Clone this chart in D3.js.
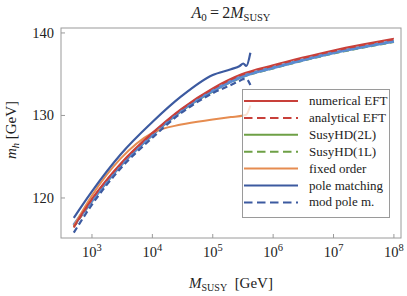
<!DOCTYPE html>
<html>
  <head>
    <meta charset="utf-8" />
    <title>m_h vs M_SUSY</title>
    <script src="https://cdn.jsdelivr.net/npm/d3@7"></script>
    <style type="text/css">
      body { margin: 0; background: #fff; }
      text { font-family: "Liberation Serif", "DejaVu Serif", serif; fill: #222; }
    </style>
  </head>
  <body>
    <svg id="chart" width="407" height="296"></svg>
    <script type="text/javascript">
      // M_SUSY grids [GeV]
      var mEFT = [500, 1e3, 3e3, 1e4, 3e4, 1e5, 3e5, 1e6, 3e6, 1e7, 3e7, 1e8];
      var mPole = [500, 1e3, 3e3, 1e4, 3e4, 1e5, 2e5, 2.8e5, 3.2e5, 3.6e5, 4.2e5];
      var mFixed = [500, 1e3, 3e3, 1e4, 3e4, 1e5, 2e5, 3.2e5, 3.6e5, 4.2e5];

      // m_h [GeV]
      var numericalEFT = [116.5, 119.9, 124.2, 127.9, 130.8, 133.3, 135.0, 136.1, 137.0, 137.9, 138.6, 139.3];
      var analyticalEFT = [116.4, 119.8, 124.1, 127.8, 130.7, 133.2, 134.9, 136.0, 136.9, 137.8, 138.5, 139.2];
      var susyHD2L = [116.6, 119.7, 124.0, 127.7, 130.6, 133.0, 134.7, 135.8, 136.7, 137.6, 138.3, 139.0];
      var susyHD1L = [116.5, 119.6, 123.9, 127.6, 130.5, 132.9, 134.6, 135.7, 136.6, 137.5, 138.2, 138.9];
      var eftBand = [116.7, 119.7, 124.0, 127.7, 130.6, 133.0, 134.7, 135.8, 136.7, 137.6, 138.3, 139.0]; // light blue, not in legend
      var fixedOrder = [116.6, 120.3, 124.8, 127.9, 128.9, 129.5, 129.8, 130.0, 130.1, 131.2];
      var poleMatching = [117.6, 120.8, 125.3, 129.2, 132.3, 134.9, 135.6, 136.0, 136.3, 136.0, 137.6];
      var modPole = [115.8, 119.2, 123.6, 127.3, 130.3, 132.7, 133.7, 134.2, 134.4, 134.4, 133.7];

      var yTicks = [120, 130, 140];
      var xTickExp = [3, 4, 5, 6, 7, 8];

      var legendNames = ['numerical EFT', 'analytical EFT', 'SusyHD(2L)', 'SusyHD(1L)', 'fixed order', 'pole matching', 'mod pole m.'];
      var legendColors = ['#c8403a', '#c8403a', '#6ea046', '#6ea046', '#e68c50', '#3c5aa0', '#3c5aa0'];
      var legendDashed = [false, true, false, true, false, false, true];

      var W = 407, H = 296;
      var m = { top: 28, right: 6, bottom: 58, left: 61 };
      var svg = d3.select('#chart');

      var x = d3.scaleLog().domain([307, 1.31e8]).range([m.left, W - m.right]);
      var y = d3.scaleLinear().domain([115.15, 140.6]).range([H - m.bottom, m.top]);

      var plot = svg.append('g');
      plot.append('clipPath').attr('id', 'clip').append('rect')
        .attr('x', m.left).attr('y', m.top)
        .attr('width', W - m.left - m.right).attr('height', H - m.top - m.bottom);

      var line = d3.line().curve(d3.curveMonotoneX)
        .x((d) => x(d[0])).y((d) => y(d[1]));

      function draw(xs, ys, color, width, dash) {
        plot.append('path')
          .datum(xs.map((v, i) => [v, ys[i]]))
          .attr('clip-path', 'url(#clip)')
          .attr('fill', 'none')
          .attr('stroke', color)
          .attr('stroke-width', width)
          .attr('stroke-dasharray', dash ? '6,3.5' : null)
          .attr('d', line);
      }

      draw(mEFT, susyHD1L, '#6ea046', 2, true);
      draw(mEFT, susyHD2L, '#6ea046', 2, false);
      draw(mEFT, eftBand, '#5a8cd2', 3.2, false);
      draw(mFixed, fixedOrder, '#e68c50', 2, false);
      draw(mPole, modPole, '#3c5aa0', 2.2, true);
      draw(mPole, poleMatching, '#3c5aa0', 2.2, false);
      draw(mEFT, analyticalEFT, '#c8403a', 1.6, true);
      draw(mEFT, numericalEFT, '#c8403a', 1.8, false);

      // frame
      svg.append('rect')
        .attr('x', m.left).attr('y', m.top)
        .attr('width', W - m.left - m.right).attr('height', H - m.top - m.bottom)
        .attr('fill', 'none').attr('stroke', '#9a9a9a').attr('stroke-width', 1);

      // x ticks (inward) + labels 10^n
      var gx = svg.append('g');
      xTickExp.forEach(function (e) {
        var px = x(Math.pow(10, e));
        gx.append('line').attr('x1', px).attr('x2', px)
          .attr('y1', H - m.bottom).attr('y2', H - m.bottom - 4)
          .attr('stroke', '#9a9a9a');
        var t = gx.append('text').attr('x', px).attr('y', 257)
          .attr('text-anchor', 'middle').attr('font-size', 14.5);
        t.append('tspan').text('10');
        t.append('tspan').attr('dy', -6).attr('font-size', 10.5).text(e);
      });

      // y ticks
      var gy = svg.append('g');
      yTicks.forEach(function (v) {
        gy.append('line').attr('x1', m.left).attr('x2', m.left + 4)
          .attr('y1', y(v)).attr('y2', y(v)).attr('stroke', '#9a9a9a');
        gy.append('text').attr('x', 54).attr('y', y(v) + 5)
          .attr('text-anchor', 'end').attr('font-size', 14.5).text(v);
      });

      // title
      var title = svg.append('text').attr('x', 231).attr('y', 18)
        .attr('text-anchor', 'middle').attr('font-size', 16);
      title.append('tspan').attr('font-style', 'italic').text('A');
      title.append('tspan').attr('font-size', 11).attr('dy', 3).text('0');
      title.append('tspan').attr('dy', -3).text('\u2009=\u20092');
      title.append('tspan').attr('font-style', 'italic').text('M');
      title.append('tspan').attr('font-size', 10.5).attr('dy', 3).text('SUSY');

      // x label
      var xl = svg.append('text').attr('x', 231).attr('y', 288)
        .attr('text-anchor', 'middle').attr('font-size', 15);
      xl.append('tspan').attr('font-style', 'italic').text('M');
      xl.append('tspan').attr('font-size', 10).attr('dy', 3).text('SUSY');
      xl.append('tspan').attr('dy', -3).text('\u2002[GeV]');

      // y label
      var yl = svg.append('text').attr('transform', 'translate(16,130) rotate(-90)')
        .attr('text-anchor', 'middle').attr('font-size', 15);
      yl.append('tspan').attr('font-style', 'italic').text('m');
      yl.append('tspan').attr('font-style', 'italic').attr('font-size', 10.5).attr('dy', 3).text('h');
      yl.append('tspan').attr('dy', -3).text(' [GeV]');

      // legend
      var lg = svg.append('g');
      lg.append('rect').attr('x', 242.5).attr('y', 89.5).attr('width', 147).attr('height', 128)
        .attr('fill', '#fff').attr('fill-opacity', 0.75)
        .attr('stroke', '#9a9a9a').attr('stroke-width', 1);
      legendNames.forEach(function (name, i) {
        var ly = 101 + i * 16.9;
        lg.append('line').attr('x1', 244).attr('x2', 298).attr('y1', ly).attr('y2', ly)
          .attr('stroke', legendColors[i]).attr('stroke-width', 2)
          .attr('stroke-dasharray', legendDashed[i] ? '8.5,4.5' : null);
        lg.append('text').attr('x', 309).attr('y', ly + 4).attr('font-size', 13).text(name);
      });
    </script>
  </body>
</html>
